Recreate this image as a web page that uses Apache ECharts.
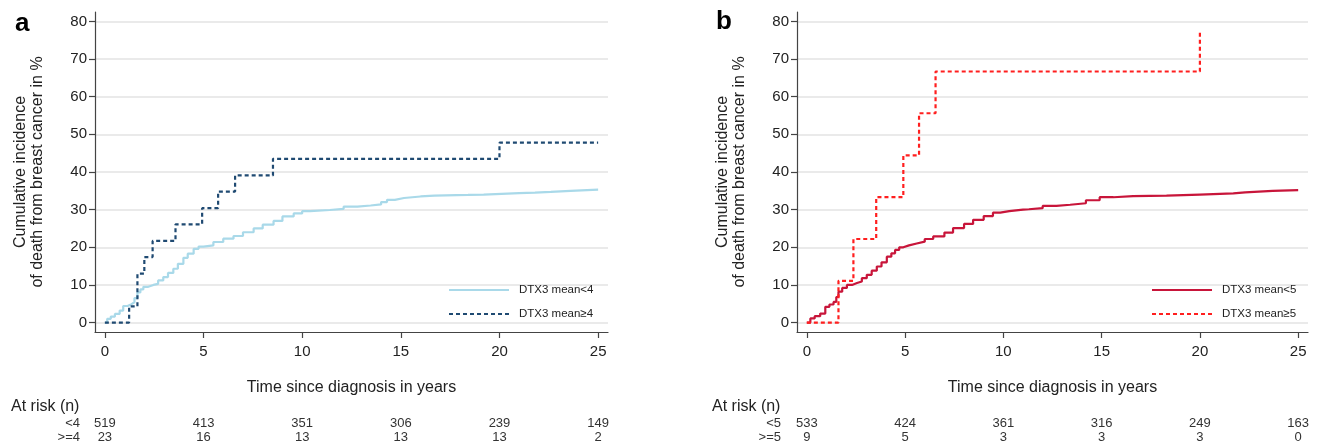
<!DOCTYPE html>
<html><head><meta charset="utf-8">
<script src="https://cdn.jsdelivr.net/npm/echarts@6/dist/echarts.min.js"></script>
<style>html,body{margin:0;padding:0;background:#fff}#c{width:1320px;height:447px}</style>
</head><body><div id="c"></div>
<script>
// ---------- data ----------
const xTicks = [0, 5, 10, 15, 20, 25];
const yTicks = [0, 10, 20, 30, 40, 50, 60, 70, 80];
const namesA = ['DTX3 mean<4', 'DTX3 mean\u22654'];
const namesB = ['DTX3 mean<5', 'DTX3 mean\u22655'];
// [time in years, cumulative incidence %]
const lowA = [[0,0],[0.12,1.0],[0.3,1.6],[0.51,2.3],[0.75,3.2],[0.93,4.4],[1.15,4.9],[1.35,5.4],[1.5,6.5],[1.65,8.0],[1.8,8.8],[1.95,9.5],[2.2,10.0],[2.46,10.3],[2.7,11.2],[2.96,12.1],[3.2,13.2],[3.47,14.3],[3.7,15.6],[3.98,17.2],[4.2,18.3],[4.5,19.6],[4.75,20.2],[5.0,20.5],[5.5,21.4],[6.0,22.3],[6.52,23.0],[7.0,24.0],[7.54,25.0],[8.0,26.0],[8.55,27.0],[9.0,28.2],[9.57,29.0],[10.0,29.6],[10.4,29.9],[11.4,30.2],[12.1,30.8],[12.8,31.1],[13.47,31.4],[14.0,32.0],[14.3,32.6],[14.7,33.1],[15.16,33.5],[16.0,33.7],[16.7,33.9],[18.4,34.0],[19.2,34.2],[20.1,34.4],[21.0,34.5],[21.8,34.7],[22.6,35.0],[23.6,35.3],[25.0,35.3]];
const highA = [[0,0],[1.23,4.3],[1.65,13.0],[2.0,17.4],[2.42,21.7],[3.58,26.1],[4.93,30.4],[5.74,34.8],[6.6,39.1],[8.52,43.5],[20.0,47.8],[25.0,47.8]];
const lowB = [[0,0],[0.18,1.1],[0.4,1.7],[0.68,2.4],[0.94,4.2],[1.15,4.8],[1.36,5.5],[1.5,6.8],[1.61,8.2],[1.8,9.2],[2.04,10.0],[2.3,10.5],[2.55,10.9],[2.8,11.8],[3.05,12.7],[3.3,13.8],[3.56,14.9],[3.8,16.0],[4.07,17.5],[4.3,18.4],[4.49,19.3],[4.7,20.0],[4.91,20.5],[5.2,21.0],[5.59,21.5],[6.0,22.2],[6.43,22.9],[7.0,23.9],[7.44,25.1],[8.0,26.2],[8.46,27.3],[9.0,28.3],[9.47,29.2],[9.84,29.6],[10.3,30.0],[11.0,30.1],[11.3,30.4],[12.0,31.0],[12.7,31.3],[13.4,31.7],[14.2,32.5],[14.9,33.3],[15.6,33.6],[16.6,33.7],[18.3,34.0],[20.0,34.3],[21.7,34.6],[22.3,35.0],[23.7,35.2],[25.0,35.2]];
const highB = [[0,0],[1.61,11.1],[2.37,22.2],[3.53,33.3],[4.91,44.4],[5.71,55.6],[6.55,66.7],[20.0,77.8]];
const riskRowsA = ['<4', '>=4'];
const riskLowA = [519, 413, 351, 306, 239, 149];
const riskHighA = [23, 16, 13, 13, 13, 2];
const riskRowsB = ['<5', '>=5'];
const riskLowB = [533, 424, 361, 316, 249, 163];
const riskHighB = [9, 5, 3, 3, 3, 0];
const yTitle = 'Cumulative incidence\nof death from breast cancer in %';
const xTitle = 'Time since diagnosis in years';
const riskTitle = 'At risk (n)';

// ---------- chart ----------
const FONT = '"Liberation Sans", Arial, sans-serif';
const chart = echarts.init(document.getElementById('c'), null, {renderer: 'canvas'});

const grids = [
  {left: 95, top: 12, width: 513, height: 320},
  {left: 797, top: 12, width: 511, height: 320}
];

function mainX(gi) {
  return {
    type: 'value', gridIndex: gi, min: -0.5, max: 25.5,
    name: xTitle, nameLocation: 'middle', nameGap: 48,
    nameTextStyle: {fontSize: 16, color: '#222', fontFamily: FONT},
    axisLine: {show: true, onZero: false, lineStyle: {color: '#444', width: 1.2}},
    axisTick: {show: true, customValues: xTicks, length: 6, lineStyle: {color: '#444', width: 1.2}},
    axisLabel: {customValues: xTicks, margin: 12, fontSize: 15, color: '#222', fontFamily: FONT},
    splitLine: {show: false}
  };
}
function riskX(gi, values, offset) {
  return {
    type: 'value', gridIndex: gi, min: -0.5, max: 25.5, position: 'bottom', offset: offset,
    axisLine: {show: false}, axisTick: {show: false}, splitLine: {show: false},
    axisLabel: {
      customValues: xTicks, margin: 0, fontSize: 13, color: '#333', fontFamily: FONT,
      formatter: v => { const i = xTicks.indexOf(v); return i >= 0 ? String(values[i]) : ''; }
    }
  };
}
function mainY(gi) {
  return {
    type: 'value', gridIndex: gi, min: -2.5, max: 82.5,
    axisLine: {show: true, onZero: false, lineStyle: {color: '#444', width: 1.2}},
    axisTick: {show: true, customValues: yTicks, length: 6, lineStyle: {color: '#444', width: 1.2}},
    axisLabel: {customValues: yTicks, margin: 8, fontSize: 15, color: '#222', fontFamily: FONT},
    splitLine: {show: true, lineStyle: {color: '#e3e3e3', width: 1.6}}
  };
}
function line(name, data, xi, yi, color, dashed, width) {
  return {
    type: 'line', name: name, data: data, xAxisIndex: xi, yAxisIndex: yi,
    step: 'end', symbol: 'none', silent: true, animation: false,
    lineStyle: {color: color, width: width, type: dashed ? [4, 3] : 'solid', cap: 'butt'},
    itemStyle: {color: color}
  };
}
function legend(names, left) {
  return {
    data: names, orient: 'vertical', left: left, top: 284, padding: 0,
    itemWidth: 60, itemHeight: 14, itemGap: 12,
    selectedMode: false,
    itemStyle: {opacity: 0},
    textStyle: {fontSize: 11.5, color: '#222', fontFamily: FONT, padding: [0, 0, 0, 5]}
  };
}
function txt(x, y, text, opts) {
  return Object.assign({type: 'text', x: x, y: y, silent: true,
    style: Object.assign({text: text, fill: '#222', font: '16px ' + FONT}, opts.style || {})},
    opts.el || {});
}

const option = {
  animation: false,
  backgroundColor: '#fff',
  textStyle: {fontFamily: FONT},
  grid: grids,
  xAxis: [mainX(0), mainX(1),
          riskX(0, riskLowA, 85), riskX(0, riskHighA, 99),
          riskX(1, riskLowB, 85), riskX(1, riskHighB, 99)],
  yAxis: [mainY(0), mainY(1)],
  legend: [legend(namesA, 448), legend(namesB, 1151)],
  series: [
    line(namesA[0], lowA, 0, 0, '#a9d9e9', false, 2.2),
    line(namesA[1], highA, 0, 0, '#1f4a72', true, 2.2),
    line(namesB[0], lowB, 1, 1, '#c8153a', false, 2.2),
    line(namesB[1], highB, 1, 1, '#ff1f1f', true, 2.2)
  ],
  graphic: [
    txt(15, 24, 'a', {style: {font: 'bold 26px ' + FONT, fill: '#000', align: 'left', verticalAlign: 'middle'}}),
    txt(716, 22, 'b', {style: {font: 'bold 26px ' + FONT, fill: '#000', align: 'left', verticalAlign: 'middle'}}),
    txt(29, 172, yTitle, {el: {rotation: Math.PI / 2}, style: {align: 'center', verticalAlign: 'middle', lineHeight: 17}}),
    txt(731, 172, yTitle, {el: {rotation: Math.PI / 2}, style: {align: 'center', verticalAlign: 'middle', lineHeight: 17}}),
    txt(11, 407, riskTitle, {style: {align: 'left', verticalAlign: 'middle'}}),
    txt(712, 407, riskTitle, {style: {align: 'left', verticalAlign: 'middle'}}),
    txt(80, 423, riskRowsA[0], {style: {align: 'right', verticalAlign: 'middle', font: '13px ' + FONT, fill: '#333'}}),
    txt(80, 437, riskRowsA[1], {style: {align: 'right', verticalAlign: 'middle', font: '13px ' + FONT, fill: '#333'}}),
    txt(781, 423, riskRowsB[0], {style: {align: 'right', verticalAlign: 'middle', font: '13px ' + FONT, fill: '#333'}}),
    txt(781, 437, riskRowsB[1], {style: {align: 'right', verticalAlign: 'middle', font: '13px ' + FONT, fill: '#333'}})
  ]
};
chart.setOption(option);
</script></body></html>
